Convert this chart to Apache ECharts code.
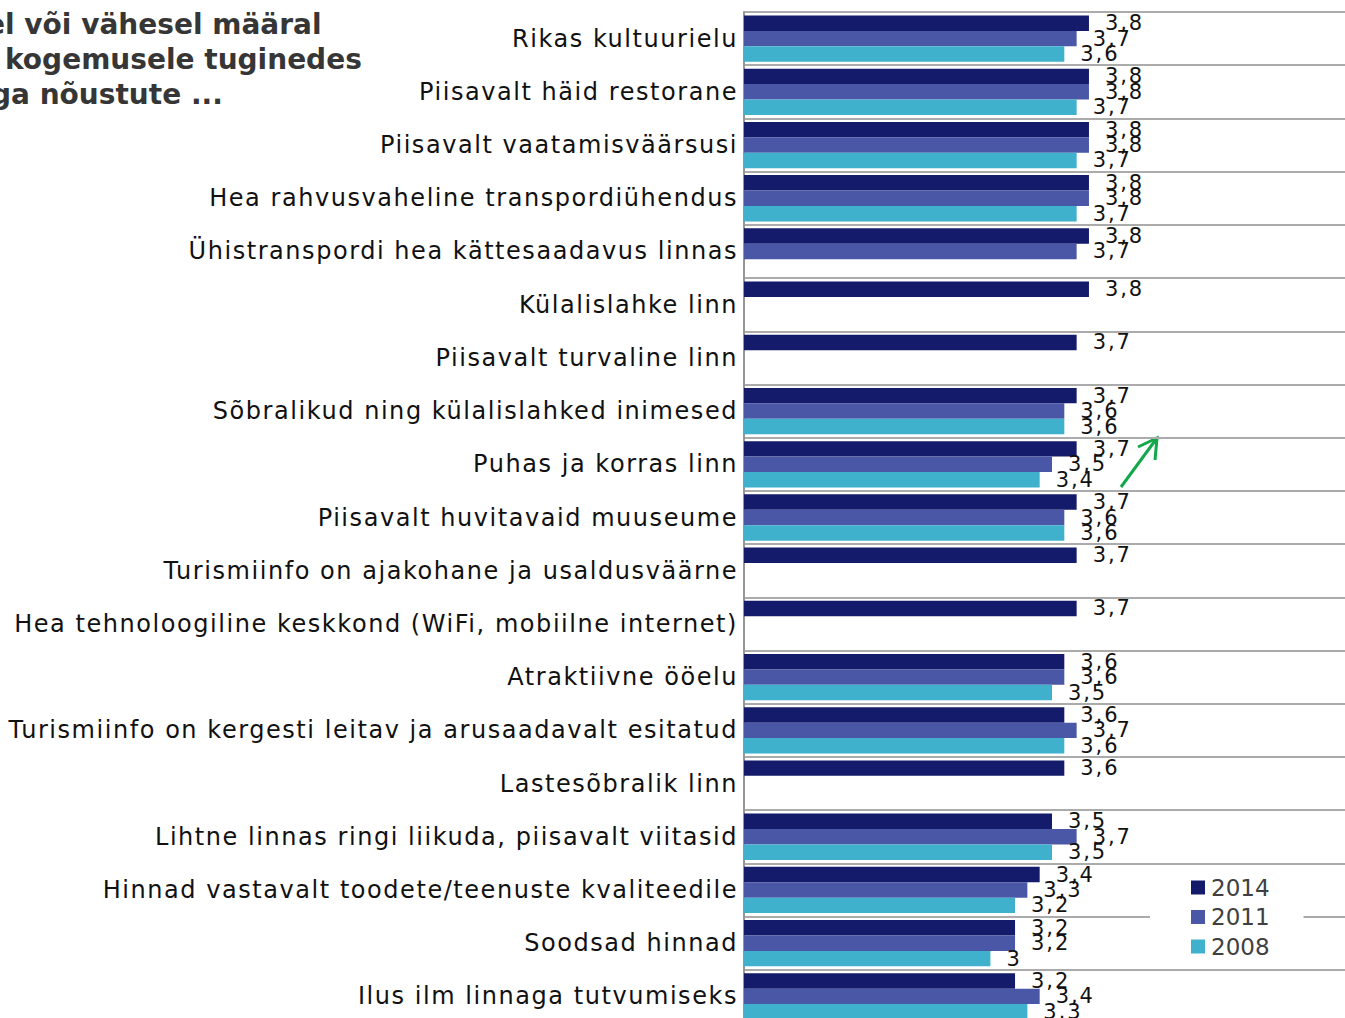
<!DOCTYPE html>
<html>
<head>
<meta charset="utf-8">
<script src="https://cdn.jsdelivr.net/npm/echarts@6/dist/echarts.min.js"></script>
<style>
html, body { margin: 0; padding: 0; background: #fff; }
#chart_bar { width: 1345px; height: 1018px; }
/* the source uses tracked Verdana for axis and value labels */
#chart_bar text[style*="Verdana"] { letter-spacing: 1.55px; }
#chart_bar text[style*="Geneva"] { letter-spacing: 1.9px; }
</style>
</head>
<body>
<div id="chart_bar"></div>
<script>
const categories = [
  'Rikas kultuurielu',
  'Piisavalt häid restorane',
  'Piisavalt vaatamisväärsusi',
  'Hea rahvusvaheline transpordiühendus',
  'Ühistranspordi hea kättesaadavus linnas',
  'Külalislahke linn',
  'Piisavalt turvaline linn',
  'Sõbralikud ning külalislahked inimesed',
  'Puhas ja korras linn',
  'Piisavalt huvitavaid muuseume',
  'Turismiinfo on ajakohane ja usaldusväärne',
  'Hea tehnoloogiline keskkond (WiFi, mobiilne internet)',
  'Atraktiivne ööelu',
  'Turismiinfo on kergesti leitav ja arusaadavalt esitatud',
  'Lastesõbralik linn',
  'Lihtne linnas ringi liikuda, piisavalt viitasid',
  'Hinnad vastavalt toodete/teenuste kvaliteedile',
  'Soodsad hinnad',
  'Ilus ilm linnaga tutvumiseks'
]
const values2014 = [3.8, 3.8, 3.8, 3.8, 3.8, 3.8, 3.7, 3.7, 3.7, 3.7, 3.7, 3.7, 3.6, 3.6, 3.6, 3.5, 3.4, 3.2, 3.2]
const values2011 = [3.7, 3.8, 3.8, 3.8, 3.7, '-', '-', 3.6, 3.5, 3.6, '-', '-', 3.6, 3.7, '-', 3.7, 3.3, 3.2, 3.4]
const values2008 = [3.6, 3.7, 3.7, 3.7, '-', '-', '-', 3.6, 3.4, 3.6, '-', '-', 3.5, 3.6, '-', 3.5, 3.2, 3.0, 3.3]
const seriesNames = ['2014', '2011', '2008']
const seriesColors = ['#141b6a', '#4a56a6', '#3fb1cd']
const titleLines = ['el või vähesel määral', 'kogemusele tuginedes', 'ga nõustute ...']

const chart = echarts.init(document.getElementById('chart_bar'), null, { renderer: 'svg' })

function makeSeries(name, data, color) {
  return {
    name: name,
    type: 'bar',
    data: data,
    barGap: 0,
    barCategoryGap: '13%',
    itemStyle: { color: color },
    label: {
      show: true,
      position: 'right',
      distance: 16,
      color: '#111',
      fontSize: 21,
      fontFamily: 'Geneva, Verdana, DejaVu Sans',
      formatter: p => String(p.value).replace('.', ',')
    }
  }
}

const titleY = [24, 59, 94]
const titleX = [-14, 5, -9]

chart.setOption({
  animation: false,
  grid: {
    left: 744,
    top: 12,
    width: 616,
    height: 1011,
    outerBoundsMode: 'none'
  },
  xAxis: {
    type: 'value',
    min: 1,
    max: 6,
    show: false
  },
  yAxis: {
    type: 'category',
    inverse: true,
    data: categories,
    axisLine: {
      show: true,
      onZero: false,
      lineStyle: { color: '#969696', width: 2 }
    },
    axisTick: { show: false },
    splitLine: {
      show: true,
      interval: 0,
      lineStyle: { color: '#ababab', width: 2 }
    },
    axisLabel: {
      interval: 0,
      margin: 6,
      color: '#111',
      fontSize: 24,
      fontFamily: 'Verdana, DejaVu Sans'
    }
  },
  legend: {
    orient: 'vertical',
    left: 1150,
    top: 868,
    z: 10,
    backgroundColor: '#fff',
    padding: [8, 34, 8, 41],
    itemWidth: 14,
    itemHeight: 14,
    itemGap: 6.5,
    icon: 'rect',
    data: seriesNames,
    textStyle: {
      color: '#404040',
      fontSize: 23,
      lineHeight: 23,
      fontFamily: 'DejaVu Sans',
      padding: [0, 0, 0, 1]
    }
  },
  graphic: titleLines.map((t, i) => ({
    type: 'text',
    x: titleX[i],
    y: titleY[i],
    style: {
      text: t,
      fill: '#363636',
      font: 'bold 28px DejaVu Sans',
      verticalAlign: 'middle'
    }
  })).concat([
    {
      type: 'polyline',
      shape: { points: [[1121, 487], [1157, 438]] },
      style: { stroke: '#12a84a', lineWidth: 3, fill: null }
    },
    {
      type: 'polyline',
      shape: { points: [[1138, 447], [1157, 438], [1155, 460]] },
      style: { stroke: '#12a84a', lineWidth: 3, fill: null }
    }
  ]),
  series: [
    makeSeries(seriesNames[0], values2014, seriesColors[0]),
    makeSeries(seriesNames[1], values2011, seriesColors[1]),
    makeSeries(seriesNames[2], values2008, seriesColors[2])
  ]
})
</script>
</body>
</html>
